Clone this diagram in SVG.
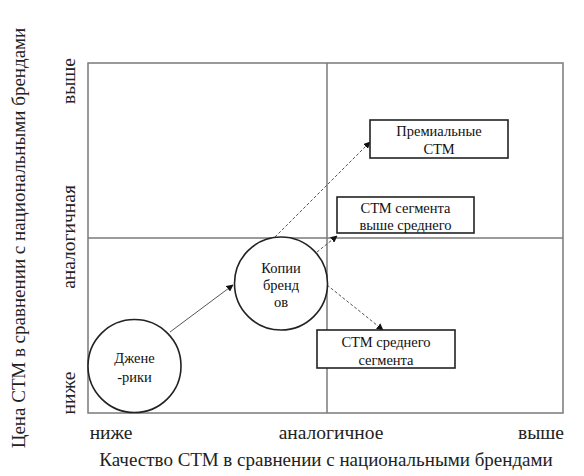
<svg xmlns="http://www.w3.org/2000/svg" width="584" height="476" viewBox="0 0 584 476">
<defs>
<style>
.frame{fill:none;stroke:#7a7a7a;stroke-width:1.5}
.node{fill:#fff;stroke:#222;stroke-width:1.6}
.box{fill:#fff;stroke:#222;stroke-width:1.6}
.t{font-family:"Liberation Serif","Times New Roman",serif;fill:#111;font-size:14.5px;text-anchor:middle}
.ax{font-family:"Liberation Serif","Times New Roman",serif;fill:#222;font-size:19.5px;text-anchor:middle}
.title{font-family:"Liberation Serif","Times New Roman",serif;fill:#222;font-size:19px;text-anchor:middle}
.solid{stroke:#555;stroke-width:1;fill:none}
.dash{stroke:#555;stroke-width:1;fill:none;stroke-dasharray:3 2}
</style>
<marker id="ah" viewBox="0 0 10 10" refX="9" refY="5" markerWidth="7" markerHeight="7" orient="auto" markerUnits="userSpaceOnUse">
<path d="M0,0 L10,5 L0,10 z" fill="#111"/>
</marker>
</defs>
<rect width="584" height="476" fill="#fff"/>
<g id="frame">
<rect class="frame" x="88" y="63" width="475" height="350"/>
<line class="frame" x1="327" y1="63" x2="327" y2="413"/>
<line class="frame" x1="88" y1="238" x2="563" y2="238"/>
</g>
<g id="axes">
<text class="ax" x="111" y="439">ниже</text>
<text class="ax" x="331" y="439">аналогичное</text>
<text class="ax" x="541" y="439">выше</text>
<text class="title" x="326" y="466">Качество СТМ в сравнении с национальными брендами</text>
<text class="ax" transform="translate(75,81) rotate(-90)">выше</text>
<text class="ax" transform="translate(75,237) rotate(-90)">аналогичная</text>
<text class="ax" transform="translate(75,393) rotate(-90)">ниже</text>
<text class="title" transform="translate(25,238) rotate(-90)">Цена СТМ в сравнении с национальными брендами</text>
</g>
<g id="connectors">
<line class="solid" x1="170" y1="332" x2="233" y2="285" marker-end="url(#ah)"/>
<line class="dash" x1="275" y1="237" x2="370" y2="142" marker-end="url(#ah)"/>
<line class="dash" x1="317" y1="252" x2="337" y2="236" marker-end="url(#ah)"/>
<line class="dash" x1="327" y1="285" x2="383" y2="330" marker-end="url(#ah)"/>
</g>
<g id="generics">
<circle class="node" cx="134.5" cy="366" r="46.5"/>
<text class="t" x="134.5" y="363">Джене</text>
<text class="t" x="134.5" y="382">-рики</text>
</g>
<g id="copies">
<circle class="node" cx="281" cy="283.5" r="46.5"/>
<text class="t" x="281" y="273">Копии</text>
<text class="t" x="281" y="290">бренд</text>
<text class="t" x="281" y="307">ов</text>
</g>
<g id="premium">
<rect class="box" x="370" y="120" width="138" height="38"/>
<text class="t" x="439" y="136">Премиальные</text>
<text class="t" x="439" y="154">СТМ</text>
</g>
<g id="above-mid">
<rect class="box" x="337" y="197" width="137" height="36"/>
<text class="t" x="405.5" y="213">СТМ сегмента</text>
<text class="t" x="405.5" y="230">выше среднего</text>
</g>
<g id="mid">
<rect class="box" x="317" y="330" width="138" height="38"/>
<text class="t" x="386" y="347">СТМ среднего</text>
<text class="t" x="386" y="365">сегмента</text>
</g>
</svg>
